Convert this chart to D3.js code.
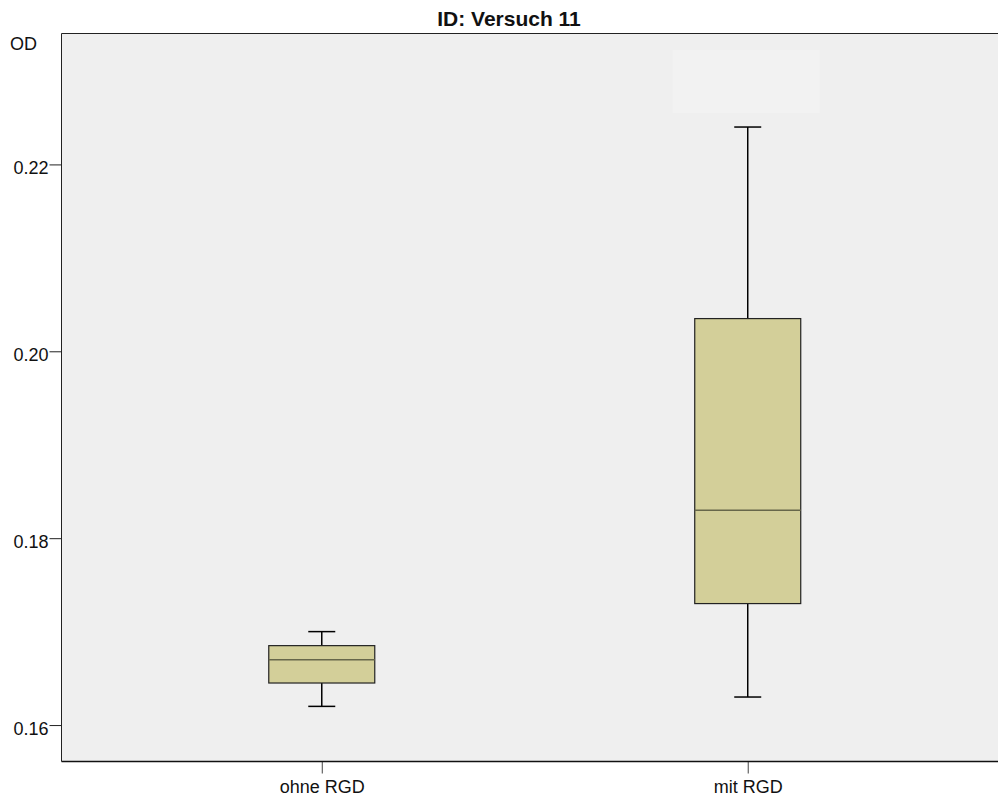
<!DOCTYPE html>
<html>
<head>
<meta charset="utf-8">
<script src="https://cdn.jsdelivr.net/npm/d3@7"></script>
<style>
  html, body { margin: 0; padding: 0; background: #ffffff; }
  svg { display: block; font-family: "Liberation Sans", Arial, Helvetica, sans-serif; }
</style>
</head>
<body>
<svg id="chart" width="998" height="798"></svg>
<script>
// Groups and their five-number summaries (OD values)
const categories = ["ohne RGD", "mit RGD"];
const whiskerLow  = [0.1620, 0.1630];
const q1          = [0.1645, 0.1730];
const median      = [0.1670, 0.1830];
const q3          = [0.1685, 0.2035];
const whiskerHigh = [0.1700, 0.2240];
const yTicks = [0.16, 0.18, 0.20, 0.22];
const title = "ID: Versuch 11";
const yLabel = "OD";

const boxes = categories.map((c, i) => ({
  cat: c, lo: whiskerLow[i], q1: q1[i], med: median[i], q3: q3[i], hi: whiskerHigh[i]
}));

const svg = d3.select("#chart");
const plot = { left: 61.5, top: 33.5, right: 1008, bottom: 761.5 };
const labelFont = "18px";

const x = d3.scalePoint()
  .domain(categories)
  .range([plot.left, plot.right])
  .padding(0.611);

const y = d3.scaleLinear()
  .domain([0.15610, 0.23401])
  .range([plot.bottom, plot.top]);

// plot background
svg.append("rect")
  .attr("x", plot.left).attr("y", plot.top)
  .attr("width", plot.right - plot.left)
  .attr("height", plot.bottom - plot.top)
  .attr("fill", "#efefef");

// faint label panel above the second group
svg.append("rect")
  .attr("x", x("mit RGD") - 75).attr("y", 50)
  .attr("width", 147).attr("height", 63)
  .attr("fill", "#f2f2f2");

// frame: top and left borders
svg.append("line")
  .attr("x1", plot.left).attr("x2", plot.right)
  .attr("y1", plot.top).attr("y2", plot.top)
  .attr("stroke", "#222").attr("stroke-width", 1);
svg.append("line")
  .attr("x1", plot.left).attr("x2", plot.left)
  .attr("y1", plot.top).attr("y2", plot.bottom)
  .attr("stroke", "#222").attr("stroke-width", 1);

// y axis
const yAxis = d3.axisLeft(y)
  .tickValues(yTicks)
  .tickFormat(d3.format(".2f"))
  .tickSize(12)
  .tickPadding(1);
const gy = svg.append("g")
  .attr("transform", `translate(${plot.left},0)`)
  .call(yAxis);
gy.select(".domain").remove();
gy.selectAll(".tick line").attr("stroke", "#222");
gy.selectAll(".tick text")
  .attr("fill", "#111")
  .attr("dy", "0.5em")
  .style("font-size", labelFont)
  .style("font-family", "'Liberation Sans', Arial, sans-serif");

// x axis
const xAxis = d3.axisBottom(x).tickSize(12).tickPadding(6.5);
const gx = svg.append("g")
  .attr("transform", `translate(0,${plot.bottom})`)
  .call(xAxis);
gx.select(".domain").remove();
gx.selectAll(".tick line").attr("stroke", "#444");
gx.selectAll(".tick text")
  .attr("fill", "#111")
  .style("font-size", labelFont)
  .style("font-family", "'Liberation Sans', Arial, sans-serif");

svg.append("line")
  .attr("x1", plot.left).attr("x2", plot.right)
  .attr("y1", plot.bottom).attr("y2", plot.bottom)
  .attr("stroke", "#111").attr("stroke-width", 1.6);

// box plots
const boxW = 106, capW = 27;
const g = svg.append("g").selectAll("g").data(boxes).join("g");

// whiskers
g.append("line")
  .attr("x1", d => x(d.cat)).attr("x2", d => x(d.cat))
  .attr("y1", d => y(d.hi)).attr("y2", d => y(d.q3))
  .attr("stroke", "#000").attr("stroke-width", 1.5);
g.append("line")
  .attr("x1", d => x(d.cat)).attr("x2", d => x(d.cat))
  .attr("y1", d => y(d.q1)).attr("y2", d => y(d.lo))
  .attr("stroke", "#000").attr("stroke-width", 1.5);
g.append("line")
  .attr("x1", d => x(d.cat) - capW / 2).attr("x2", d => x(d.cat) + capW / 2)
  .attr("y1", d => y(d.hi)).attr("y2", d => y(d.hi))
  .attr("stroke", "#000").attr("stroke-width", 1.5);
g.append("line")
  .attr("x1", d => x(d.cat) - capW / 2).attr("x2", d => x(d.cat) + capW / 2)
  .attr("y1", d => y(d.lo)).attr("y2", d => y(d.lo))
  .attr("stroke", "#000").attr("stroke-width", 1.5);

// interquartile box
g.append("rect")
  .attr("x", d => x(d.cat) - boxW / 2)
  .attr("width", boxW)
  .attr("y", d => y(d.q3))
  .attr("height", d => y(d.q1) - y(d.q3))
  .attr("fill", "#d3cf99")
  .attr("stroke", "#222").attr("stroke-width", 1.2);

// median
g.append("line")
  .attr("x1", d => x(d.cat) - boxW / 2).attr("x2", d => x(d.cat) + boxW / 2)
  .attr("y1", d => y(d.med)).attr("y2", d => y(d.med))
  .attr("stroke", "#67674a").attr("stroke-width", 1.5);

// title and y label
svg.append("text")
  .attr("x", 509).attr("y", 26)
  .attr("text-anchor", "middle")
  .attr("fill", "#111")
  .style("font-size", "21px").style("font-weight", "bold")
  .text(title);

svg.append("text")
  .attr("x", 10).attr("y", 50)
  .attr("fill", "#111")
  .style("font-size", labelFont)
  .text(yLabel);
</script>
</body>
</html>
